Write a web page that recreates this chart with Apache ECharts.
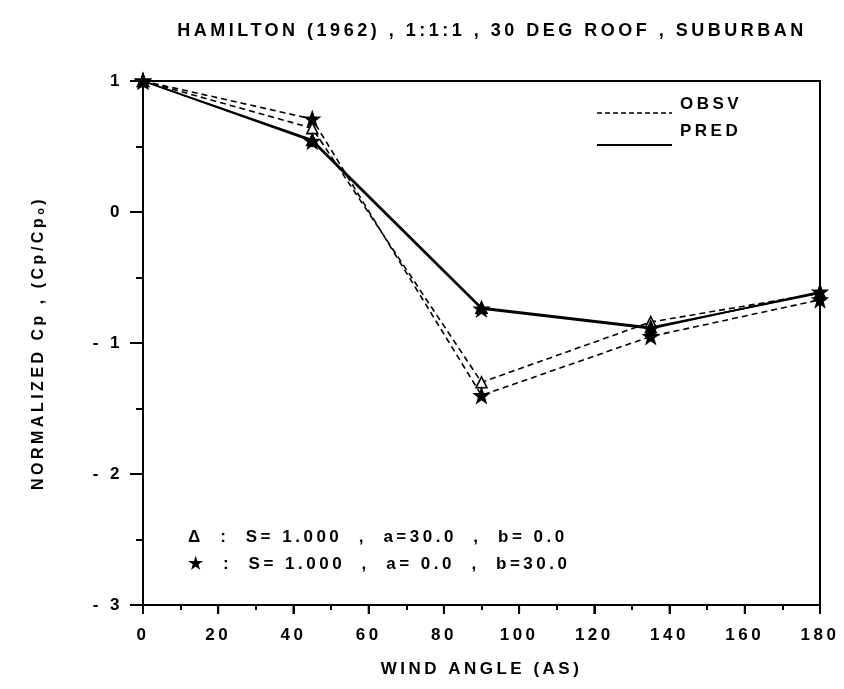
<!DOCTYPE html>
<html>
<head>
<meta charset="utf-8">
<style>
  html, body { margin: 0; padding: 0; background: #fff; }
  #chart { width: 844px; height: 689px; }
</style>
<script src="https://cdn.jsdelivr.net/npm/echarts@6/dist/echarts.min.js"></script>
</head>
<body>
<div id="chart"></div>
<script>
// Wind angles (deg) at which Cp was sampled
const angles = [0, 45, 90, 135, 180];

// Normalized Cp, observed (dashed)
const obsvTriangle = [1, 0.64, -1.30, -0.84, -0.62];
const obsvStar     = [1, 0.71, -1.40, -0.95, -0.67];

// Normalized Cp, predicted (solid)
const predTriangle = [1, 0.55, -0.73, -0.88, -0.62];
const predStar     = [1, 0.54, -0.74, -0.89, -0.61];

// Axis ticks
const xTicks = [0, 20, 40, 60, 80, 100, 120, 140, 160, 180];
const yTicks = [-3, -2, -1, 0, 1];

// Plotter-style wide tracking for all canvas text
const TRACKING = '3.5px';
(function () {
  const proto = CanvasRenderingContext2D.prototype;
  if (!('letterSpacing' in proto)) return;
  const fill = proto.fillText;
  proto.fillText = function () {
    this.letterSpacing = TRACKING;
    const r = fill.apply(this, arguments);
    this.letterSpacing = '0px';
    return r;
  };
})();

const FONT = "'Liberation Sans', Arial, sans-serif";
const STAR = 'path://M50 0L61.76 33.82L97.55 34.55L69.02 56.18L79.39 90.45L50 70L20.61 90.45L30.98 56.18L2.45 34.55L38.24 33.82Z';

const pairs = (ys) => angles.map((a, i) => [a, ys[i]]);

function series(name, ys, dashed, symbol, filled) {
  return {
    name: name,
    type: 'line',
    data: pairs(ys),
    symbol: symbol,
    symbolSize: symbol === 'triangle' ? 11 : 14,
    showSymbol: true,
    lineStyle: { color: '#000', width: dashed ? 1.6 : 1.8, type: dashed ? [6, 4] : 'solid' },
    itemStyle: { color: filled ? '#000' : '#fff', borderColor: '#000', borderWidth: 1.6 },
    emphasis: { disabled: true },
    animation: false
  };
}

const tickLine = { color: '#000', width: 2 };
const labelStyle = { fontFamily: FONT, fontSize: 17, fontWeight: 'bold', color: '#000' };

// Legend and parameter captions
const captions = [
  { type: 'line', shape: { x1: 597, y1: 113, x2: 672, y2: 113 },
    style: { stroke: '#000', lineWidth: 1.6, lineDash: [5, 3] } },
  { type: 'text', left: 680, top: 96,
    style: { text: 'OBSV', font: 'bold 17px ' + FONT, fill: '#000' } },
  { type: 'line', shape: { x1: 597, y1: 145, x2: 672, y2: 145 },
    style: { stroke: '#000', lineWidth: 1.8 } },
  { type: 'text', left: 680, top: 123,
    style: { text: 'PRED', font: 'bold 17px ' + FONT, fill: '#000' } },
  { type: 'text', left: 188, top: 529,
    style: { text: 'Δ  :  S= 1.000  ,  a=30.0  ,  b= 0.0', font: 'bold 17px ' + FONT, fill: '#000' } },
  { type: 'text', left: 188, top: 556,
    style: { text: '★  :  S= 1.000  ,  a= 0.0  ,  b=30.0', font: 'bold 17px ' + FONT, fill: '#000' } }
];

const chart = echarts.init(document.getElementById('chart'));
chart.setOption({
  backgroundColor: '#fff',
  animation: false,
  title: {
    text: 'HAMILTON (1962) , 1:1:1 , 30 DEG ROOF , SUBURBAN',
    left: 487, top: 17, textAlign: 'center',
    textStyle: { fontFamily: FONT, fontSize: 18, fontWeight: 'bold', color: '#000' }
  },
  grid: {
    left: 143, right: 24, top: 81, bottom: 84,
    show: true, borderColor: '#000', borderWidth: 2, backgroundColor: 'transparent'
  },
  xAxis: {
    type: 'value', min: 0, max: 180, interval: 20,
    name: 'WIND ANGLE (AS)', nameLocation: 'middle', nameGap: 56,
    nameTextStyle: labelStyle,
    // keep the angle axis on the bottom edge: the helper y axis has no zero
    axisLine: { show: true, onZero: true, onZeroAxisIndex: 1, lineStyle: tickLine },
    axisTick: { show: true, inside: false, length: 9, lineStyle: tickLine },
    minorTick: { show: true, splitNumber: 2, length: 5, lineStyle: tickLine },
    axisLabel: Object.assign({ margin: 22, customValues: xTicks }, labelStyle),
    splitLine: { show: false }
  },
  yAxis: [{
    type: 'value', min: -3, max: 1, interval: 1,
    name: 'NORMALIZED Cp , (Cp/Cpₒ)', nameLocation: 'middle', nameGap: 96, nameRotate: 90,
    nameTextStyle: Object.assign({}, labelStyle, { fontSize: 16 }),
    axisLine: { show: true, lineStyle: tickLine },
    axisTick: { show: true, inside: false, length: 13, lineStyle: tickLine },
    minorTick: { show: true, splitNumber: 2, length: 7, lineStyle: tickLine },
    axisLabel: Object.assign({
      margin: 20, customValues: yTicks,
      formatter: (v) => (v < 0 ? '- ' + Math.abs(v) : String(v))
    }, labelStyle),
    splitLine: { show: false }
  }, {
    type: 'value', min: 1, max: 2, show: false, position: 'right'
  }],
  series: [
    series('OBSV a', obsvTriangle, true, 'triangle', false),
    series('OBSV b', obsvStar, true, STAR, true),
    series('PRED a', predTriangle, false, 'triangle', true),
    series('PRED b', predStar, false, STAR, true)
  ],
  graphic: captions
});

// Major tick marks, placed through the axes' own scales
const x0 = chart.convertToPixel({ xAxisIndex: 0 }, 0);
const yBase = chart.convertToPixel({ yAxisIndex: 0 }, -3);
const majorTicks = [];
xTicks.forEach((v) => {
  const px = chart.convertToPixel({ xAxisIndex: 0 }, v);
  majorTicks.push({ type: 'line', silent: true,
    shape: { x1: px, y1: yBase, x2: px, y2: yBase + 9 },
    style: { stroke: '#000', lineWidth: 2 } });
});
yTicks.forEach((v) => {
  const py = chart.convertToPixel({ yAxisIndex: 0 }, v);
  majorTicks.push({ type: 'line', silent: true,
    shape: { x1: x0 - 13, y1: py, x2: x0, y2: py },
    style: { stroke: '#000', lineWidth: 2 } });
});
chart.setOption({ graphic: captions.concat(majorTicks) });
</script>
</body>
</html>
